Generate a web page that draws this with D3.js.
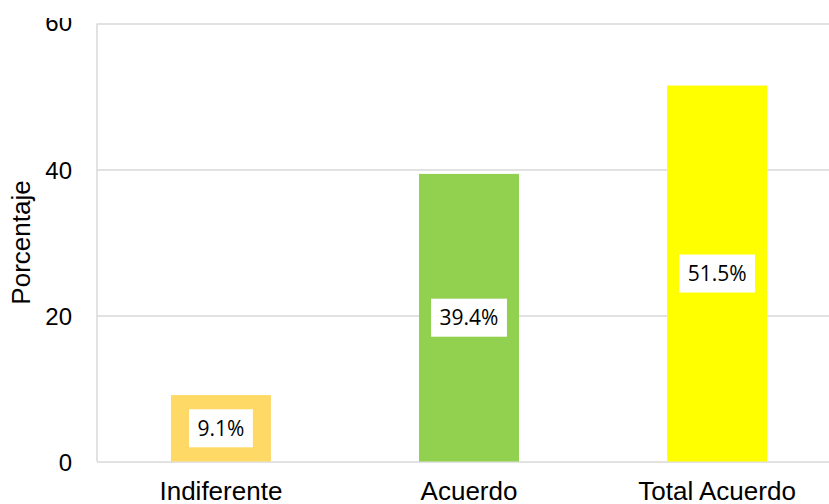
<!DOCTYPE html>
<html>
<head>
<meta charset="utf-8">
<script src="https://cdn.jsdelivr.net/npm/d3@7"></script>
<style>
  body { margin: 0; background: #fff; }
</style>
</head>
<body>
<div id="chart"></div>
<script>
// Chart data
var categories = ["Indiferente", "Acuerdo", "Total Acuerdo"];
var values = [9.1, 39.4, 51.5];
var colors = ["#ffd966", "#92d050", "#ffff00"];
var yTicks = [0, 20, 40, 60];

// Dimensions (plot area runs past the right edge, as in the reference)
var W = 829, H = 504;
var plot = { left: 97, top: 23.5, right: 841, bottom: 461.5 };

var svg = d3.select("#chart")
    .append("svg")
    .attr("width", W)
    .attr("height", H);

var x = d3.scaleBand()
    .domain(categories)
    .range([plot.left, plot.right])
    .paddingInner(0.597)
    .paddingOuter(0.298);

var y = d3.scaleLinear()
    .domain([0, 60])
    .range([plot.bottom, plot.top]);

// Gridlines
var grid = svg.append("g")
    .attr("transform", "translate(" + plot.left + ",0)")
    .call(d3.axisLeft(y).tickValues(yTicks).tickSize(-(plot.right - plot.left)).tickFormat(""));
grid.select(".domain").remove();
grid.selectAll("line")
    .attr("stroke", "#d9d9d9")
    .attr("stroke-width", 1.5);

// Left border of plot area
svg.append("line")
    .attr("x1", plot.left).attr("x2", plot.left)
    .attr("y1", plot.top).attr("y2", plot.bottom)
    .attr("stroke", "#d9d9d9")
    .attr("stroke-width", 1.5);

// Y axis labels (top one is cut off in the reference)
svg.append("clipPath")
    .attr("id", "yclip")
    .append("rect")
    .attr("x", 0).attr("y", 18)
    .attr("width", plot.left).attr("height", H);

var yAxis = svg.append("g")
    .attr("clip-path", "url(#yclip)")
    .append("g")
    .attr("transform", "translate(" + plot.left + ",0)")
    .call(d3.axisLeft(y).tickValues(yTicks).tickSize(0));
yAxis.select(".domain").remove();
yAxis.selectAll("text")
    .attr("x", -25)
    .attr("dy", function (d) { return d === 60 ? "0.28em" : "0.36em"; })
    .attr("font-family", "'Liberation Sans', Arial, sans-serif")
    .attr("font-size", 24)
    .attr("fill", "#000");

// X axis labels
var xAxis = svg.append("g")
    .attr("transform", "translate(0," + plot.bottom + ")")
    .call(d3.axisBottom(x).tickSize(0));
xAxis.select(".domain").remove();
xAxis.selectAll("text")
    .attr("y", 38.5)
    .attr("dy", 0)
    .attr("font-family", "'Liberation Sans', Arial, sans-serif")
    .attr("font-size", 26)
    .attr("fill", "#000");

// Y axis title
svg.append("text")
    .attr("transform", "translate(30," + ((plot.top + plot.bottom) / 2) + ") rotate(-90)")
    .attr("text-anchor", "middle")
    .attr("font-family", "'Liberation Sans', Arial, sans-serif")
    .attr("font-size", 26)
    .attr("fill", "#000")
    .text("Porcentaje");

// Bars
svg.selectAll(".bar")
    .data(values)
    .enter()
    .append("rect")
    .attr("class", "bar")
    .attr("x", function (d, i) { return x(categories[i]); })
    .attr("y", function (d) { return y(d); })
    .attr("width", x.bandwidth())
    .attr("height", function (d) { return y(0) - y(d); })
    .attr("fill", function (d, i) { return colors[i]; });

// Value labels in white boxes, centred in each bar
var labels = svg.selectAll(".bar-label")
    .data(values)
    .enter()
    .append("g")
    .attr("class", "bar-label")
    .attr("transform", function (d, i) {
        return "translate(" + (x(categories[i]) + x.bandwidth() / 2) + "," + ((y(d) + y(0)) / 2) + ")";
    });

labels.append("rect").attr("fill", "#fff");

labels.append("text")
    .attr("text-anchor", "middle")
    .attr("dy", "0.36em")
    .attr("font-family", "'Open Sans', 'Noto Sans', sans-serif")
    .attr("font-size", 21)
    .attr("fill", "#000")
    .text(function (d) { return d.toFixed(1) + "%"; })
    .each(function () {
        var w = this.getComputedTextLength() + 17;
        d3.select(this.parentNode).select("rect")
            .attr("x", -w / 2)
            .attr("y", -19)
            .attr("width", w)
            .attr("height", 38);
    });
</script>
</body>
</html>
